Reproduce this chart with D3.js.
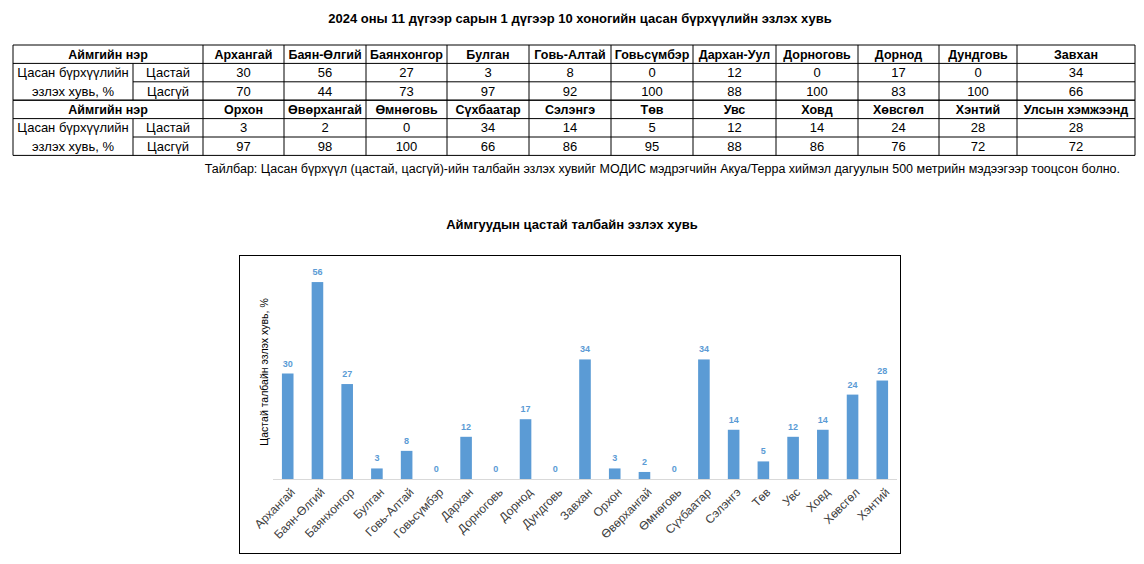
<!DOCTYPE html>
<html>
<head>
<meta charset="utf-8">
<script src="https://cdn.jsdelivr.net/npm/d3@7"></script>
<style>
  body { margin: 0; background: #fff; }
  svg { display: block; font-family: "Liberation Sans", Arial, sans-serif; }
</style>
</head>
<body>
<svg id="page" width="1144" height="564"></svg>
<script>
// table data
var aimagsTop = ['Архангай', 'Баян-Өлгий', 'Баянхонгор', 'Булган', 'Говь-Алтай', 'Говьсүмбэр', 'Дархан-Уул', 'Дорноговь', 'Дорнод', 'Дундговь', 'Завхан'];
var snowTop = [30, 56, 27, 3, 8, 0, 12, 0, 17, 0, 34];
var noSnowTop = [70, 44, 73, 97, 92, 100, 88, 100, 83, 100, 66];
var aimagsBottom = ['Орхон', 'Өвөрхангай', 'Өмнөговь', 'Сүхбаатар', 'Сэлэнгэ', 'Төв', 'Увс', 'Ховд', 'Хөвсгөл', 'Хэнтий', 'Улсын хэмжээнд'];
var snowBottom = [3, 2, 0, 34, 14, 5, 12, 14, 24, 28, 28];
var noSnowBottom = [97, 98, 100, 66, 86, 95, 88, 86, 76, 72, 72];

// chart data
var chartAimags = ['Архангай', 'Баян-Өлгий', 'Баянхонгор', 'Булган', 'Говь-Алтай', 'Говьсүмбэр', 'Дархан', 'Дорноговь', 'Дорнод', 'Дундговь', 'Завхан', 'Орхон', 'Өвөрхангай', 'Өмнөговь', 'Сүхбаатар', 'Сэлэнгэ', 'Төв', 'Увс', 'Ховд', 'Хөвсгөл', 'Хэнтий'];
var chartSnow = [30, 56, 27, 3, 8, 0, 12, 0, 17, 0, 34, 3, 2, 0, 34, 14, 5, 12, 14, 24, 28];

var svg = d3.select('#page');

svg.append('text')
    .attr('x', 580).attr('y', 23)
    .attr('text-anchor', 'middle')
    .style('font-size', '13px').style('font-weight', 'bold')
    .text('2024 оны 11 дүгээр сарын 1 дүгээр 10 хоногийн цасан бүрхүүлийн эзлэх хувь');

// ---- table ----
var colEdges = [13, 133, 203, 284, 366, 447, 529, 611, 693, 776, 858, 939, 1017, 1135];
var tableTop = 45, rowH = 18.4;
var $table = svg.append('g').attr('class', 'table');

function rowY(i) { return tableTop + i * rowH; }

function cellText(x, i, txt, bold) {
    $table.append('text')
        .attr('x', x).attr('y', rowY(i) + rowH / 2 + 4.5)
        .attr('text-anchor', 'middle')
        .style('font-size', bold ? '12.5px' : '13px')
        .style('font-weight', bold ? 'bold' : 'normal')
        .text(txt);
}

function line(x1, y1, x2, y2) {
    $table.append('line')
        .attr('x1', x1).attr('y1', y1).attr('x2', x2).attr('y2', y2)
        .attr('stroke', '#000').attr('stroke-width', 1);
}

function block(start, names, snow, noSnow) {
    cellText((colEdges[0] + colEdges[2]) / 2, start, 'Аймгийн нэр', true);
    cellText((colEdges[0] + colEdges[1]) / 2, start + 1, 'Цасан бүрхүүлийн', false);
    cellText((colEdges[0] + colEdges[1]) / 2, start + 2, 'эзлэх хувь, %', false);
    cellText((colEdges[1] + colEdges[2]) / 2, start + 1, 'Цастай', false);
    cellText((colEdges[1] + colEdges[2]) / 2, start + 2, 'Цасгүй', false);
    names.forEach(function (n, j) {
        var cx = (colEdges[j + 2] + colEdges[j + 3]) / 2;
        cellText(cx, start, n, true);
        cellText(cx, start + 1, snow[j], false);
        cellText(cx, start + 2, noSnow[j], false);
    });
    var left = colEdges[0], right = colEdges[colEdges.length - 1];
    line(left, rowY(start), right, rowY(start));
    line(left, rowY(start + 1), right, rowY(start + 1));
    line(colEdges[1], rowY(start + 2), right, rowY(start + 2));
    line(left, rowY(start + 3), right, rowY(start + 3));
    colEdges.forEach(function (x, k) {
        if (k === 1) {
            line(x, rowY(start + 1), x, rowY(start + 3));
        } else {
            line(x, rowY(start), x, rowY(start + 3));
        }
    });
}

block(0, aimagsTop, snowTop, noSnowTop);
block(3, aimagsBottom, snowBottom, noSnowBottom);

svg.append('text')
    .attr('x', 1120).attr('y', 173)
    .attr('text-anchor', 'end')
    .style('font-size', '12.5px')
    .text('Тайлбар: Цасан бүрхүүл (цастай, цасгүй)-ийн талбайн эзлэх хувийг МОДИС мэдрэгчийн Акуа/Терра хиймэл дагуулын 500 метрийн мэдээгээр тооцсон болно.');

// ---- chart ----
svg.append('text')
    .attr('x', 572).attr('y', 229)
    .attr('text-anchor', 'middle')
    .style('font-size', '13px').style('font-weight', 'bold')
    .text('Аймгуудын цастай талбайн эзлэх хувь');

svg.append('rect')
    .attr('x', 239.5).attr('y', 255.5)
    .attr('width', 661).attr('height', 298)
    .attr('fill', 'none').attr('stroke', '#000').attr('stroke-width', 1);

var x = d3.scaleBand()
    .domain(chartAimags)
    .range([273, 897])
    .paddingInner(0.61)
    .paddingOuter(0.3);

var y = d3.scaleLinear()
    .domain([0, 60])
    .range([479, 268]);

var $chart = svg.append('g').attr('class', 'chart');

$chart.selectAll('rect.bar')
    .data(chartSnow)
    .enter().append('rect')
    .attr('class', 'bar')
    .attr('x', function (d, i) { return x(chartAimags[i]); })
    .attr('width', x.bandwidth())
    .attr('y', function (d) { return y(d); })
    .attr('height', function (d) { return y(0) - y(d); })
    .attr('fill', '#5b9bd5');

$chart.selectAll('text.lbl')
    .data(chartSnow)
    .enter().append('text')
    .attr('class', 'lbl')
    .attr('x', function (d, i) { return x(chartAimags[i]) + x.bandwidth() / 2; })
    .attr('y', function (d) { return y(d) - 7; })
    .attr('text-anchor', 'middle')
    .style('font-size', '9px').style('font-weight', 'bold')
    .attr('fill', '#5b9bd5')
    .text(function (d) { return d; });

var $axis = $chart.append('g')
    .attr('transform', 'translate(0,' + y(0) + ')')
    .call(d3.axisBottom(x).tickSize(0).tickPadding(0));

$axis.select('.domain').attr('stroke', '#d9d9d9').attr('d', 'M273,0.5H897');

$axis.selectAll('text')
    .attr('transform', 'translate(5,11) rotate(-45)')
    .attr('dy', '0.35em')
    .style('font-size', '12px')
    .style('font-family', '"Liberation Sans", Arial, sans-serif')
    .style('text-anchor', 'end')
    .attr('fill', '#404040');

svg.append('text')
    .attr('transform', 'translate(268,372) rotate(-90)')
    .attr('text-anchor', 'middle')
    .style('font-size', '10.5px')
    .attr('fill', '#000')
    .text('Цастай талбайн эзлэх хувь, %');
</script>
</body>
</html>
